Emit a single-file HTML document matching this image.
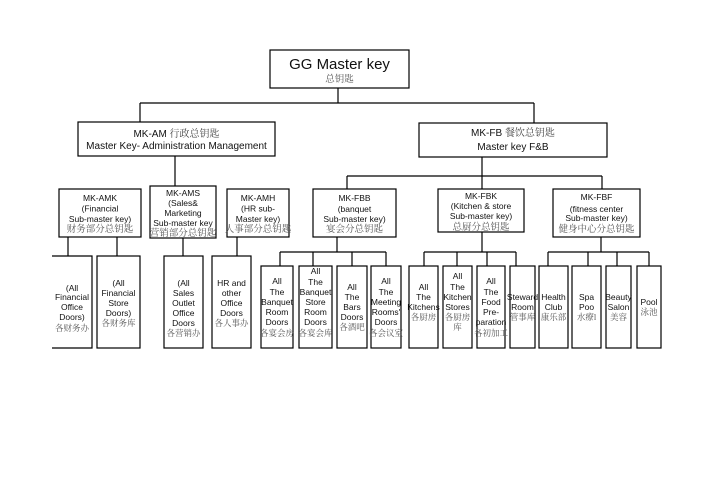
<!DOCTYPE html>
<html><head><meta charset="utf-8"><style>
html,body{margin:0;padding:0;background:#fff;}
svg{display:block;}
.e{font-family:"Liberation Sans",Arial,sans-serif;font-size:8.5px;fill:#111;text-anchor:middle;}
.c{font-family:"Liberation Serif","Noto Serif CJK SC",serif;font-size:8.5px;fill:#555;text-anchor:middle;}
.cs{font-family:"Liberation Serif","Noto Serif CJK SC",serif;font-size:9.5px;fill:#555;text-anchor:middle;}
.m{font-family:"Liberation Sans","Noto Sans CJK SC",sans-serif;font-size:10px;fill:#111;text-anchor:middle;}
</style></head><body>
<svg width="713" height="504" viewBox="0 0 713 504" xmlns="http://www.w3.org/2000/svg">
<g fill="none" stroke="#000" stroke-width="1.2">
<!-- top -->
<rect x="270" y="50" width="139" height="38"/>
<path d="M338 88V103M140 103H534M140 103V122M534 103V123"/>
<rect x="78" y="122" width="197" height="34"/>
<rect x="419" y="123" width="188" height="34"/>
<!-- AM subs -->
<path d="M175 156V186"/>
<rect x="59" y="189" width="82" height="48"/>
<rect x="150" y="186" width="66" height="52"/>
<rect x="227" y="189" width="62" height="48"/>
<path d="M68 237V256M117 237V256M183 238V256M237 237V256"/>
<path d="M52 256H92V348H52"/>
<rect x="97" y="256" width="43" height="92"/>
<rect x="164" y="256" width="39" height="92"/>
<rect x="212" y="256" width="39" height="92"/>
<!-- FB subs -->
<path d="M482 157V189M347 176H602M347 176V189M602 176V189"/>
<rect x="313" y="189" width="83" height="48"/>
<rect x="438" y="189" width="86" height="43"/>
<rect x="553" y="189" width="87" height="48"/>
<path d="M337 237V252M280 252H386M280 252V266M313 252V266M352 252V266M386 252V266"/>
<path d="M482 232V252M424 252H516M424 252V266M457 252V266M487 252V266M516 252V266"/>
<path d="M601 237V252M548 252H649M548 252V266M588 252V266M617 252V266M649 252V266"/>
<rect x="261" y="266" width="32" height="82"/>
<rect x="299" y="266" width="33" height="82"/>
<rect x="337" y="266" width="30" height="82"/>
<rect x="371" y="266" width="30" height="82"/>
<rect x="409" y="266" width="29" height="82"/>
<rect x="443" y="266" width="29" height="82"/>
<rect x="477" y="266" width="28" height="82"/>
<rect x="510" y="266" width="25" height="82"/>
<rect x="539" y="266" width="29" height="82"/>
<rect x="572" y="266" width="29" height="82"/>
<rect x="606" y="266" width="25" height="82"/>
<rect x="637" y="266" width="24" height="82"/>
</g>

<!-- top text -->
<text x="339.5" y="69" style="font-family:'Liberation Sans',sans-serif;font-size:15px;fill:#111;text-anchor:middle">GG Master key</text>
<text x="339.5" y="82" class="cs">总钥匙</text>

<text x="176.5" y="137" class="m">MK-AM <tspan style="font-family:'Liberation Serif','Noto Serif CJK SC',serif;fill:#444">行政总钥匙</tspan></text>
<text x="176.5" y="149" class="m">Master Key- Administration Management</text>
<text x="513" y="136" class="m">MK-FB <tspan style="font-family:'Liberation Serif','Noto Serif CJK SC',serif;fill:#444">餐饮总钥匙</tspan></text>
<text x="513" y="150" class="m">Master key F&amp;B</text>

<!-- AM subs text -->
<text x="100" y="201" class="e">MK-AMK</text>
<text x="100" y="211.5" class="e">(Financial</text>
<text x="100" y="222" class="e">Sub-master key)</text>
<text x="100" y="232" class="cs">财务部分总钥匙</text>

<text x="183" y="196" class="e">MK-AMS</text>
<text x="183" y="206" class="e">(Sales&amp;</text>
<text x="183" y="216" class="e">Marketing</text>
<text x="183" y="226" class="e">Sub-master key</text>
<text x="183" y="236" class="cs">营销部分总钥匙</text>

<text x="258" y="201" class="e">MK-AMH</text>
<text x="258" y="211.5" class="e">(HR sub-</text>
<text x="258" y="222" class="e">Master key)</text>
<text x="258" y="232" class="cs">人事部分总钥匙</text>

<!-- FB subs text -->
<text x="354.5" y="201" class="e">MK-FBB</text>
<text x="354.5" y="212" class="e">(banquet</text>
<text x="354.5" y="222" class="e">Sub-master key)</text>
<text x="354.5" y="232" class="cs">宴会分总钥匙</text>

<text x="481" y="199" class="e">MK-FBK</text>
<text x="481" y="209" class="e">(Kitchen &amp; store</text>
<text x="481" y="219" class="e">Sub-master key)</text>
<text x="481" y="230" class="cs">总厨分总钥匙</text>

<text x="596.5" y="200" class="e">MK-FBF</text>
<text x="596.5" y="212" class="e">(fitness center</text>
<text x="596.5" y="221" class="e">Sub-master key)</text>
<text x="596.5" y="232" class="cs">健身中心分总钥匙</text>

<!-- AM leaves -->
<text x="72" y="291" class="e">(All</text>
<text x="72" y="300" class="e">Financial</text>
<text x="72" y="310" class="e">Office</text>
<text x="72" y="320" class="e">Doors)</text>
<text x="72" y="331" class="c">各财务办</text>

<text x="118.5" y="286" class="e">(All</text>
<text x="118.5" y="296" class="e">Financial</text>
<text x="118.5" y="306" class="e">Store</text>
<text x="118.5" y="316" class="e">Doors)</text>
<text x="118.5" y="326" class="c">各财务库</text>

<text x="183.5" y="286" class="e">(All</text>
<text x="183.5" y="296" class="e">Sales</text>
<text x="183.5" y="306" class="e">Outlet</text>
<text x="183.5" y="316" class="e">Office</text>
<text x="183.5" y="326" class="e">Doors</text>
<text x="183.5" y="336" class="c">各营销办</text>

<text x="231.5" y="286" class="e">HR and</text>
<text x="231.5" y="296" class="e">other</text>
<text x="231.5" y="306" class="e">Office</text>
<text x="231.5" y="316" class="e">Doors</text>
<text x="231.5" y="326" class="c">各人事办</text>

<!-- FB leaves -->
<text x="277" y="284" class="e">All</text>
<text x="277" y="295" class="e">The</text>
<text x="277" y="305" class="e">Banquet</text>
<text x="277" y="315" class="e">Room</text>
<text x="277" y="325" class="e">Doors</text>
<text x="277" y="336" class="c">各宴会房</text>

<text x="315.5" y="274" class="e">All</text>
<text x="315.5" y="285" class="e">The</text>
<text x="315.5" y="295" class="e">Banquet</text>
<text x="315.5" y="305" class="e">Store</text>
<text x="315.5" y="315" class="e">Room</text>
<text x="315.5" y="325" class="e">Doors</text>
<text x="315.5" y="336" class="c">各宴会库</text>

<text x="352" y="290" class="e">All</text>
<text x="352" y="300" class="e">The</text>
<text x="352" y="310" class="e">Bars</text>
<text x="352" y="320" class="e">Doors</text>
<text x="352" y="330" class="c">各酒吧</text>

<text x="386" y="284" class="e">All</text>
<text x="386" y="295" class="e">The</text>
<text x="386" y="305" class="e">Meeting</text>
<text x="386" y="315" class="e">Rooms'</text>
<text x="386" y="325" class="e">Doors</text>
<text x="386" y="336" class="c">各会议室</text>

<text x="423.5" y="290" class="e">All</text>
<text x="423.5" y="300" class="e">The</text>
<text x="423.5" y="310" class="e">Kitchens</text>
<text x="423.5" y="320" class="c">各厨房</text>

<text x="457.5" y="279" class="e">All</text>
<text x="457.5" y="290" class="e">The</text>
<text x="457.5" y="300" class="e">Kitchen</text>
<text x="457.5" y="310" class="e">Stores</text>
<text x="457.5" y="320" class="c">各厨房</text>
<text x="457.5" y="330" class="c">库</text>

<text x="491" y="284" class="e">All</text>
<text x="491" y="295" class="e">The</text>
<text x="491" y="305" class="e">Food</text>
<text x="491" y="315" class="e">Pre-</text>
<text x="491" y="325" class="e">paration</text>
<text x="491" y="336" class="c">各初加工</text>

<text x="522.5" y="300" class="e">Steward</text>
<text x="522.5" y="310" class="e">Room</text>
<text x="522.5" y="320" class="c">管事库</text>

<text x="553.5" y="300" class="e">Health</text>
<text x="553.5" y="310" class="e">Club</text>
<text x="553.5" y="320" class="c">康乐部</text>

<text x="586.5" y="300" class="e">Spa</text>
<text x="586.5" y="310" class="e">Poo</text>
<text x="586.5" y="320" class="c">水療l</text>

<text x="618.5" y="300" class="e">Beauty</text>
<text x="618.5" y="310" class="e">Salon</text>
<text x="618.5" y="320" class="c">美容</text>

<text x="649" y="305" class="e">Pool</text>
<text x="649" y="315" class="c">泳池</text>
</svg>
</body></html>
